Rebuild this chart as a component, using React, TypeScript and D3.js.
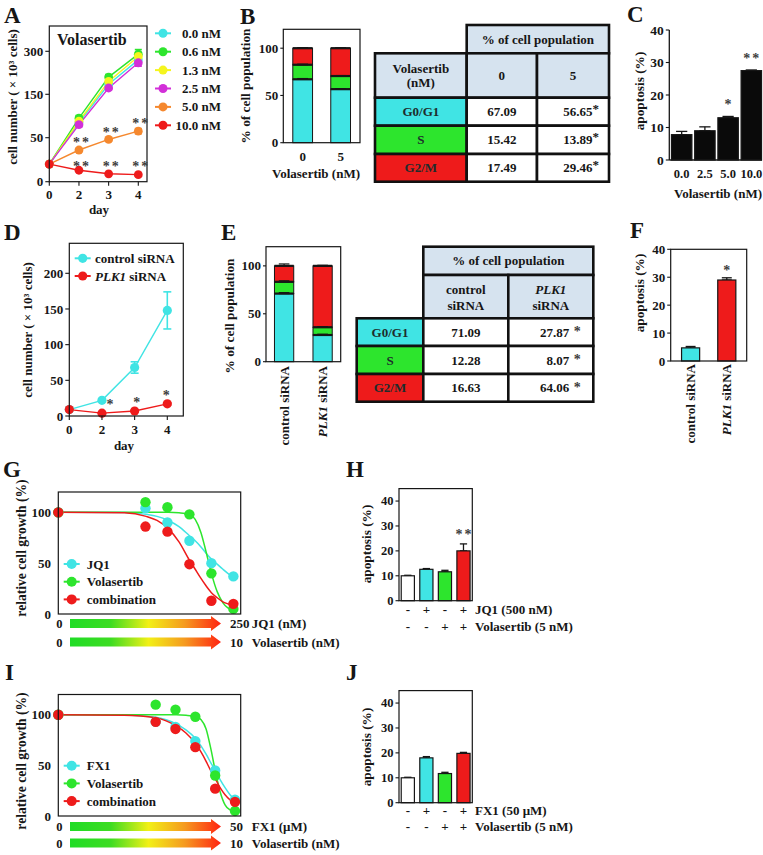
import React from 'react';
import * as d3 from 'd3';

const FONT = "'Liberation Serif', 'Times New Roman', serif";
const INK = '#161616';
const CYAN = '#40e4e4';
const GREEN = '#2de52d';
const YELLOW = '#f5f51e';
const MAGENTA = '#d22fd8';
const ORANGE = '#f5882e';
const RED = '#ee1b1b';
const HEADER = '#d6e3ef';
const CELLTXT = '#1e2c2c';
const STAR = '#3c3c3c';

// ---------- A: growth with Volasertib
const daysA = ['0', '2', '3', '4'];
const concA = ['0.0 nM', '0.6 nM', '1.3 nM', '2.5 nM', '5.0 nM', '10.0 nM'];
const cellsA_00 = [20, 85, 185, 270];
const cellsA_06 = [20, 95, 210, 290];
const cellsA_13 = [20, 88, 195, 282];
const cellsA_25 = [20, 80, 172, 260];
const cellsA_50 = [20, 36, 48, 65];
const cellsA_100 = [20, 13, 9, 8];
const errA_00 = [1, 6, 10, 14];
const errA_06 = [1, 6, 9, 16];
const errA_13 = [1, 6, 9, 15];
const errA_25 = [1, 5, 7, 12];
const errA_50 = [1, 2, 2, 6];
const errA_100 = [1, 1, 1, 1];
const yTicksA = [0, 50, 150, 300];
const starsA = ['', '**', '**', '**'];

// ---------- B: cell cycle, Volasertib
const phases = ['G0/G1', 'S', 'G2/M'];
const volB = ['0', '5'];
const cycleB_0 = [67.09, 15.42, 17.49];
const cycleB_5 = [56.65, 13.89, 29.46];
const cycleErrB_0 = [0.8, 0.6, 0.6];
const cycleErrB_5 = [0.6, 0.5, 0.5];
const stackTicks = [0, 50, 100];

// ---------- C: apoptosis, Volasertib
const concC = ['0.0', '2.5', '5.0', '10.0'];
const apoC = [7.8, 9.0, 13.0, 27.5];
const apoErrC = [1.0, 1.2, 0.4, 0.2];
const starsC = ['', '', '*', '**'];
const apoTicks = [0, 10, 20, 30, 40];

// ---------- D: growth with siRNA
const daysD = ['0', '2', '3', '4'];
const siNames = ['control siRNA', 'PLK1 siRNA'];
const ctrlD = [9, 22, 68, 148];
const ctrlErrD = [1, 2, 8, 26];
const plkD = [9, 4, 7, 17];
const plkErrD = [1, 1, 1, 1.5];
const starsD = ['', '*', '*', '*'];
const yTicksD = [0, 50, 100, 150, 200];

// ---------- E: cell cycle, siRNA
const cycleE_ctrl = [71.09, 12.28, 16.63];
const cycleE_plk = [27.87, 8.07, 64.06];
const cycleErrE_ctrl = [1.0, 1.0, 2.0];
const cycleErrE_plk = [0.8, 0.6, 0.6];

// ---------- F: apoptosis, siRNA
const apoF = [4.7, 29.0];
const apoErrF = [0.5, 0.8];
const starsF = ['', '*'];

// ---------- G: JQ1 + Volasertib dose response
const seriesNamesG = ['JQ1', 'Volasertib', 'combination'];
const dosesG = [0, 15.625, 31.25, 62.5, 125, 250];
const growthG_jq1 = [100, 104, 90, 72, 50, 37];
const growthG_vol = [100, 110, 105, 98, 40, 5];
const growthG_comb = [100, 86, 81, 49, 13, 10];
const fitDosesG = [1, 8, 16, 22.5, 32, 45, 62.5, 75, 90, 105, 125, 150, 180, 210, 250];
const fitG_jq1 = [100, 99.8, 98, 96, 92, 86, 77, 72, 66, 60, 54, 49, 44, 40, 36];
const fitG_vol = [100, 100, 100, 100, 100, 99.5, 98, 93, 80, 62, 40, 22, 11, 6, 4];
const fitG_comb = [100, 99.5, 96, 92, 84, 71, 53, 44, 35, 28, 21, 16, 12, 10, 8];

// ---------- H: apoptosis JQ1 + Volasertib
const jq1H = ['-', '+', '-', '+'];
const volH = ['-', '-', '+', '+'];
const apoH = [10.0, 12.6, 11.6, 20.0];
const apoErrH = [0.2, 0.3, 0.6, 2.8];
const starsH = ['', '', '', '**'];

// ---------- I: FX1 + Volasertib dose response
const seriesNamesI = ['FX1', 'Volasertib', 'combination'];
const dosesI = [0, 3.125, 6.25, 12.5, 25, 50];
const growthI_fx1 = [100, 93, 88, 74, 45, 16];
const growthI_vol = [100, 110, 105, 98, 40, 5];
const growthI_comb = [100, 93, 86, 68, 27, 14];
const fitDosesI = [0.104, 1.03, 3.13, 4.5, 6.4, 9, 12.8, 15.3, 18.2, 21.7, 25, 29.7, 35.3, 42, 50];
const fitI_fx1 = [100, 99.7, 97.5, 95, 91, 85, 76, 69, 61, 52, 45, 36, 28, 21, 16];
const fitI_vol = [100, 100, 100, 100, 100, 99.5, 98, 95, 86, 65, 45, 24, 11, 6, 4];
const fitI_comb = [100, 99.5, 97, 94, 89, 82, 71, 63, 54, 44, 37, 28, 21, 16, 13];
const growthTicks = [0, 50, 100];

// ---------- J: apoptosis FX1 + Volasertib
const fx1J = ['-', '+', '-', '+'];
const volJ = ['-', '-', '+', '+'];
const apoJ = [10.0, 18.0, 11.7, 19.8];
const apoErrJ = [0.2, 0.5, 0.5, 0.4];
const starsJ = ['', '', '', ''];

// ================= helpers
const Txt = ({ children, ...p }: any) => (
  <text fontFamily={FONT} fontWeight="bold" fill={INK} {...p}>
    {children}
  </text>
);

const VTitle = ({ x, y, size = 13, children }: any) => (
  <text
    transform={`translate(${x},${y}) rotate(-90)`}
    textAnchor="middle"
    fontFamily={FONT}
    fontWeight="bold"
    fontSize={size}
    fill={INK}
  >
    {children}
  </text>
);

const Letter = ({ x, y, children }: any) => (
  <Txt x={x} y={y} fontSize={23}>
    {children}
  </Txt>
);

const Star = ({ x, y, children, size = 14 }: any) => (
  <text
    x={x}
    y={y}
    textAnchor="middle"
    fontFamily={FONT}
    fontWeight="bold"
    fontSize={size}
    fill={STAR}
    letterSpacing={2}
  >
    {children}
  </text>
);

function ErrBar({ x, y0, y1, w = 6, color = INK, sw = 1.3 }: any) {
  return (
    <g stroke={color} strokeWidth={sw}>
      <line x1={x} x2={x} y1={y0} y2={y1} />
      <line x1={x - w / 2} x2={x + w / 2} y1={y0} y2={y0} />
      <line x1={x - w / 2} x2={x + w / 2} y1={y1} y2={y1} />
    </g>
  );
}

function LegendMark({ x, y, color, r = 4.5 }: any) {
  return (
    <g>
      <line x1={x - 8} x2={x + 8} y1={y} y2={y} stroke={color} strokeWidth={2} />
      <circle cx={x} cy={y} r={r} fill={color} />
    </g>
  );
}

function YAxisTicks({ ticks, y, x, size = 12.5, tick = 4, gap = 2 }: any) {
  return (
    <g>
      {ticks.map((t: number) => (
        <g key={t}>
          <line x1={x - tick} x2={x} y1={y(t)} y2={y(t)} stroke={INK} strokeWidth={1.1} />
          <Txt x={x - tick - gap} y={y(t) + size * 0.35} textAnchor="end" fontSize={size}>
            {t}
          </Txt>
        </g>
      ))}
    </g>
  );
}

function SiLabel({ x, y, name, size = 12.5 }: any) {
  const [first, ...rest] = name.split(' ');
  return (
    <text
      transform={`translate(${x},${y}) rotate(-90)`}
      textAnchor="end"
      fontFamily={FONT}
      fontWeight="bold"
      fontSize={size}
      fill={INK}
    >
      <tspan fontStyle={first === 'PLK1' ? 'italic' : 'normal'}>{first}</tspan>
      {' ' + rest.join(' ')}
    </text>
  );
}

// ================= A
function PanelA() {
  const L = 49.3, R = 147, T = 26, B = 181.7;
  const x = d3.scalePoint<string>().domain(daysA).range([49.3, 138.3]);
  const y = d3.scaleLinear().domain(yTicksA).range([181.7, 137.7, 94.3, 51.3]);
  const series = [
    { v: cellsA_00, e: errA_00, c: CYAN },
    { v: cellsA_06, e: errA_06, c: GREEN },
    { v: cellsA_13, e: errA_13, c: YELLOW },
    { v: cellsA_25, e: errA_25, c: MAGENTA },
    { v: cellsA_50, e: errA_50, c: ORANGE },
    { v: cellsA_100, e: errA_100, c: RED },
  ];
  const line = d3
    .line<number>()
    .x((_, i) => x(daysA[i])!)
    .y((d) => y(d));
  return (
    <g>
      <Letter x={4} y={23}>A</Letter>
      {series.map((s, k) => (
        <path key={k} d={line(s.v)!} fill="none" stroke={s.c} strokeWidth={1.4} />
      ))}
      {series.map((s, k) =>
        s.v.map((v, i) =>
          i > 0 ? (
            <ErrBar key={`${k}-${i}`} x={x(daysA[i])!} y0={y(v + s.e[i])} y1={y(v - s.e[i])} color={s.c} w={7} sw={1.6} />
          ) : null
        )
      )}
      {series.map((s, k) =>
        s.v.map((v, i) => <circle key={`${k}-${i}`} cx={x(daysA[i])} cy={y(v)} r={4.4} fill={s.c} />)
      )}
      <rect x={L} y={T} width={R - L} height={B - T} fill="none" stroke={INK} strokeWidth={1.2} />
      <YAxisTicks ticks={yTicksA} y={y} x={L} size={13} />
      {daysA.map((d) => (
        <g key={d}>
          <line x1={x(d)} x2={x(d)} y1={B} y2={B + 4} stroke={INK} strokeWidth={1.1} />
          <Txt x={x(d)} y={198.5} textAnchor="middle" fontSize={13}>
            {d}
          </Txt>
        </g>
      ))}
      <Txt x={57} y={45} fontSize={16}>Volasertib</Txt>
      {starsA.map((s, i) =>
        s ? (
          <g key={i}>
            <Star x={x(daysA[i])! + 3} y={y(cellsA_50[i] + errA_50[i]) - 1}>{s}</Star>
            <Star x={x(daysA[i])! + 3} y={171}>{s}</Star>
          </g>
        ) : null
      )}
      {concA.map((c, k) => (
        <g key={c}>
          <LegendMark x={163} y={33.3 + k * 18.4} color={series[k].c} />
          <Txt x={221} y={33.3 + k * 18.4 + 4.5} textAnchor="end" fontSize={13}>
            {c}
          </Txt>
        </g>
      ))}
      <Txt x={99} y={214} textAnchor="middle" fontSize={13}>day</Txt>
      <VTitle x={17} y={97} size={13}>cell number ( × 10³ cells)</VTitle>
    </g>
  );
}

// ================= stacked bars (B, E)
function Stacked({ cats, data, errs, L, R, T, B, padI, padO }: any) {
  const x = d3.scaleBand<string>().domain(cats).range([L, R]).paddingInner(padI).paddingOuter(padO);
  const y = d3.scaleLinear().domain([0, 120]).range([B, T]);
  const colors = [CYAN, GREEN, RED];
  const bw = x.bandwidth();
  return (
    <g>
      {cats.map((c: string, ci: number) => {
        const vals: number[] = data[ci];
        const tops = Array.from(d3.cumsum(vals));
        const x0 = x(c)!;
        return (
          <g key={c}>
            {vals.map((v, k) => (
              <rect
                key={k}
                x={x0}
                y={y(tops[k])}
                width={bw}
                height={y(tops[k] - v) - y(tops[k])}
                fill={colors[k]}
                stroke={INK}
                strokeWidth={1}
              />
            ))}
            {tops.map((t, k) => (
              <g key={k}>
                <ErrBar x={x0 + bw / 2} y0={y(t + errs[ci][k])} y1={y(t)} w={bw * 0.55} sw={1.2} />
                <line x1={x0} x2={x0 + bw} y1={y(t)} y2={y(t)} stroke={INK} strokeWidth={2.2} />
              </g>
            ))}
          </g>
        );
      })}
      <rect x={L} y={T} width={R - L} height={B - T} fill="none" stroke={INK} strokeWidth={1.2} />
      <YAxisTicks ticks={stackTicks} y={y} x={L} size={13} tick={3} />
    </g>
  );
}

function PanelB() {
  const x = d3.scaleBand<string>().domain(volB).range([283.3, 360]).paddingInner(0.48).paddingOuter(0.25);
  return (
    <g>
      <Letter x={240} y={24}>B</Letter>
      <Stacked
        cats={volB}
        data={[cycleB_0, cycleB_5]}
        errs={[cycleErrB_0, cycleErrB_5]}
        L={283.3}
        R={360}
        T={29.3}
        B={142.7}
        padI={0.48}
        padO={0.25}
      />
      {volB.map((c) => (
        <Txt key={c} x={x(c)! + x.bandwidth() / 2} y={161} textAnchor="middle" fontSize={13}>
          {c}
        </Txt>
      ))}
      <Txt x={316} y={177.5} textAnchor="middle" fontSize={13}>Volasertib (nM)</Txt>
      <VTitle x={250} y={86} size={13.3}>% of cell population</VTitle>
    </g>
  );
}

function PanelE() {
  const x = d3.scaleBand<string>().domain(siNames).range([266, 340.7]).paddingInner(0.5).paddingOuter(0.22);
  return (
    <g>
      <Letter x={221} y={240}>E</Letter>
      <Stacked
        cats={siNames}
        data={[cycleE_ctrl, cycleE_plk]}
        errs={[cycleErrE_ctrl, cycleErrE_plk]}
        L={266}
        R={340.7}
        T={246.7}
        B={361.7}
        padI={0.5}
        padO={0.22}
      />
      {siNames.map((c) => (
        <SiLabel key={c} x={x(c)! + x.bandwidth() / 2 + 4.5} y={366} name={c} size={13} />
      ))}
      <VTitle x={234} y={316} size={13.3}>% of cell population</VTitle>
    </g>
  );
}

// ================= tables
function Cell({ cx, ry, c0, c1, r0, r1, fill }: any) {
  return (
    <rect
      x={cx[c0]}
      y={ry[r0]}
      width={cx[c1] - cx[c0]}
      height={ry[r1] - ry[r0]}
      fill={fill}
      stroke="#111"
      strokeWidth={2.6}
    />
  );
}

function TableB() {
  const cx = [375, 466.7, 537, 609];
  const ry = [25, 53.3, 97.7, 125.7, 154, 181.7];
  const fills = [CYAN, GREEN, RED];
  const mx = (c: number) => (cx[c] + cx[c + 1]) / 2;
  const my = (r: number) => (ry[r] + ry[r + 1]) / 2;
  return (
    <g>
      <Cell cx={cx} ry={ry} c0={1} c1={3} r0={0} r1={1} fill={HEADER} />
      <Cell cx={cx} ry={ry} c0={0} c1={1} r0={1} r1={2} fill={HEADER} />
      <Cell cx={cx} ry={ry} c0={1} c1={2} r0={1} r1={2} fill={HEADER} />
      <Cell cx={cx} ry={ry} c0={2} c1={3} r0={1} r1={2} fill={HEADER} />
      {phases.map((p, i) => (
        <g key={p}>
          <Cell cx={cx} ry={ry} c0={0} c1={1} r0={2 + i} r1={3 + i} fill={fills[i]} />
          <Cell cx={cx} ry={ry} c0={1} c1={2} r0={2 + i} r1={3 + i} fill="#fff" />
          <Cell cx={cx} ry={ry} c0={2} c1={3} r0={2 + i} r1={3 + i} fill="#fff" />
        </g>
      ))}
      <Txt x={(cx[1] + cx[3]) / 2} y={my(0) + 4.5} textAnchor="middle" fontSize={13}>
        % of cell population
      </Txt>
      <Txt x={mx(0)} y={73} textAnchor="middle" fontSize={13}>Volasertib</Txt>
      <Txt x={mx(0)} y={86.5} textAnchor="middle" fontSize={13}>(nM)</Txt>
      {volB.map((v, k) => (
        <Txt key={v} x={mx(1 + k)} y={my(1) + 4.5} textAnchor="middle" fontSize={13}>
          {v}
        </Txt>
      ))}
      {phases.map((p, i) => (
        <g key={p}>
          <Txt x={mx(0)} y={my(2 + i) + 4.5} textAnchor="middle" fontSize={13} fill={CELLTXT}>
            {p}
          </Txt>
          <Txt x={mx(1)} y={my(2 + i) + 4.5} textAnchor="middle" fontSize={13}>
            {cycleB_0[i].toFixed(2)}
          </Txt>
          <Txt x={mx(2) + 8} y={my(2 + i) + 4.5} textAnchor="middle" fontSize={13}>
            {cycleB_5[i].toFixed(2)}
            <tspan dy={-3}>*</tspan>
          </Txt>
        </g>
      ))}
    </g>
  );
}

function TableE() {
  const cx = [356.7, 423.3, 508.3, 593.3];
  const ry = [246.7, 275, 318.3, 346, 374, 401.7];
  const fills = [CYAN, GREEN, RED];
  const mx = (c: number) => (cx[c] + cx[c + 1]) / 2;
  const my = (r: number) => (ry[r] + ry[r + 1]) / 2;
  return (
    <g>
      <Cell cx={cx} ry={ry} c0={1} c1={3} r0={0} r1={1} fill={HEADER} />
      <Cell cx={cx} ry={ry} c0={1} c1={2} r0={1} r1={2} fill={HEADER} />
      <Cell cx={cx} ry={ry} c0={2} c1={3} r0={1} r1={2} fill={HEADER} />
      {phases.map((p, i) => (
        <g key={p}>
          <Cell cx={cx} ry={ry} c0={0} c1={1} r0={2 + i} r1={3 + i} fill={fills[i]} />
          <Cell cx={cx} ry={ry} c0={1} c1={2} r0={2 + i} r1={3 + i} fill="#fff" />
          <Cell cx={cx} ry={ry} c0={2} c1={3} r0={2 + i} r1={3 + i} fill="#fff" />
        </g>
      ))}
      <Txt x={(cx[1] + cx[3]) / 2} y={my(0) + 4.5} textAnchor="middle" fontSize={13}>
        % of cell population
      </Txt>
      {siNames.map((n, k) => {
        const [first, ...rest] = n.split(' ');
        return (
          <g key={n}>
            <Txt
              x={mx(1 + k)}
              y={293.5}
              textAnchor="middle"
              fontSize={13}
              fontStyle={first === 'PLK1' ? 'italic' : 'normal'}
            >
              {first}
            </Txt>
            <Txt x={mx(1 + k)} y={309.5} textAnchor="middle" fontSize={13}>
              {rest.join(' ')}
            </Txt>
          </g>
        );
      })}
      {phases.map((p, i) => (
        <g key={p}>
          <Txt x={mx(0)} y={my(2 + i) + 4.5} textAnchor="middle" fontSize={13} fill={CELLTXT}>
            {p}
          </Txt>
          <Txt x={mx(1)} y={my(2 + i) + 4.5} textAnchor="middle" fontSize={13}>
            {cycleE_ctrl[i].toFixed(2)}
          </Txt>
          <Txt x={cx[3] - 24} y={my(2 + i) + 4.5} textAnchor="end" fontSize={13}>
            {cycleE_plk[i].toFixed(2)}
          </Txt>
          <Star x={cx[3] - 15} y={my(2 + i) + 4} size={14}>*</Star>
        </g>
      ))}
    </g>
  );
}

// ================= simple bar panel (C, F, H, J)
function BarPanel({ L, R, T, B, yMax, ticks, vals, errs, fills, stars, frame, padI, padO, barL, barR, tickSize = 12.5, starGap = 6 }: any) {
  const cats = vals.map((_: number, i: number) => String(i));
  const x = d3.scaleBand<string>().domain(cats).range([barL ?? L, barR ?? R]).paddingInner(padI).paddingOuter(padO);
  const y = d3.scaleLinear().domain([0, yMax]).range([B, T]);
  const bw = x.bandwidth();
  return (
    <g>
      {vals.map((v: number, i: number) => {
        const x0 = x(cats[i])!;
        return (
          <g key={i}>
            <ErrBar x={x0 + bw / 2} y0={y(v + errs[i])} y1={y(v)} w={bw * 0.55} sw={1.3} />
            <rect x={x0} y={y(v)} width={bw} height={B - y(v)} fill={fills[i]} stroke={INK} strokeWidth={1.2} />
            {stars[i] ? (
              <Star x={x0 + bw / 2 + 1} y={y(v + errs[i]) - starGap}>{stars[i]}</Star>
            ) : null}
          </g>
        );
      })}
      {frame ? (
        <rect x={L} y={T} width={R - L} height={B - T} fill="none" stroke={INK} strokeWidth={1.2} />
      ) : (
        <g stroke={INK} strokeWidth={1.3}>
          <line x1={L} x2={L} y1={y(yMax)} y2={B} />
          <line x1={L} x2={R} y1={B} y2={B} />
        </g>
      )}
      <YAxisTicks ticks={ticks} y={y} x={L} size={tickSize} tick={3.5} />
    </g>
  );
}

function PanelC() {
  const x = d3.scaleBand<string>().domain(concC).range([671, 762]).paddingInner(0.12).paddingOuter(0.02);
  return (
    <g>
      <Letter x={627} y={22}>C</Letter>
      <BarPanel
        L={669.3}
        R={762}
        T={30}
        B={160}
        yMax={40}
        ticks={apoTicks}
        vals={apoC}
        errs={apoErrC}
        fills={apoC.map(() => '#0a0a0a')}
        stars={starsC}
        frame={false}
        barL={671}
        barR={762}
        padI={0.12}
        padO={0.02}
        tickSize={13.5}
        starGap={7}
      />
      {concC.map((c) => (
        <Txt key={c} x={x(c)! + x.bandwidth() / 2} y={178} textAnchor="middle" fontSize={12.5}>
          {c}
        </Txt>
      ))}
      <Txt x={718} y={198} textAnchor="middle" fontSize={13}>Volasertib (nM)</Txt>
      <VTitle x={644} y={91} size={13.3}>apoptosis (%)</VTitle>
    </g>
  );
}

function PanelD() {
  const L = 69.3, R = 183.3, T = 243.3, B = 416;
  const x = d3.scalePoint<string>().domain(daysD).range([69.3, 167.3]);
  const y = d3.scaleLinear().domain([0, 200]).range([416, 273.3]);
  const line = d3
    .line<number>()
    .x((_, i) => x(daysD[i])!)
    .y((d) => y(d));
  const starDx = [0, 9, 3, 0];
  const series = [
    { v: ctrlD, e: ctrlErrD, c: CYAN },
    { v: plkD, e: plkErrD, c: RED },
  ];
  return (
    <g>
      <Letter x={4} y={240}>D</Letter>
      {series.map((s, k) => (
        <path key={k} d={line(s.v)!} fill="none" stroke={s.c} strokeWidth={1.4} />
      ))}
      {series.map((s, k) =>
        s.v.map((v, i) =>
          i > 0 ? (
            <ErrBar key={`${k}-${i}`} x={x(daysD[i])!} y0={y(v + s.e[i])} y1={y(v - s.e[i])} color={s.c} w={8} sw={1.6} />
          ) : null
        )
      )}
      {series.map((s, k) =>
        s.v.map((v, i) => <circle key={`${k}-${i}`} cx={x(daysD[i])} cy={y(v)} r={4.6} fill={s.c} />)
      )}
      <rect x={L} y={T} width={R - L} height={B - T} fill="none" stroke={INK} strokeWidth={1.2} />
      <YAxisTicks ticks={yTicksD} y={y} x={L} size={13} />
      {daysD.map((d) => (
        <g key={d}>
          <line x1={x(d)} x2={x(d)} y1={B} y2={B + 4} stroke={INK} strokeWidth={1.1} />
          <Txt x={x(d)} y={433.5} textAnchor="middle" fontSize={13}>
            {d}
          </Txt>
        </g>
      ))}
      {starsD.map((s, i) =>
        s ? (
          <Star key={i} x={x(daysD[i])! + starDx[i]} y={y(plkD[i] + plkErrD[i]) - 3}>
            {s}
          </Star>
        ) : null
      )}
      {siNames.map((n, k) => {
        const [first, ...rest] = n.split(' ');
        return (
          <g key={n}>
            <LegendMark x={82.7} y={258.3 + k * 17.7} color={series[k].c} r={4.6} />
            <Txt x={95} y={258.3 + k * 17.7 + 4.5} fontSize={13}>
              <tspan fontStyle={first === 'PLK1' ? 'italic' : 'normal'}>{first}</tspan>
              {' ' + rest.join(' ')}
            </Txt>
          </g>
        );
      })}
      <Txt x={124} y={450} textAnchor="middle" fontSize={13}>day</Txt>
      <VTitle x={32} y={330} size={13}>cell number ( × 10³ cells)</VTitle>
    </g>
  );
}

function PanelF() {
  const cats = apoF.map((_, i) => String(i));
  const x = d3.scaleBand<string>().domain(cats).range([670.7, 746.7]).paddingInner(0.5).paddingOuter(0.3);
  return (
    <g>
      <Letter x={630} y={238}>F</Letter>
      <BarPanel
        L={670.7}
        R={746.7}
        T={249.3}
        B={361}
        yMax={40}
        ticks={apoTicks}
        vals={apoF}
        errs={apoErrF}
        fills={[CYAN, RED]}
        stars={starsF}
        frame={true}
        padI={0.5}
        padO={0.3}
        tickSize={13}
        starGap={3}
      />
      {siNames.map((n, i) => (
        <SiLabel key={n} x={x(cats[i])! + x.bandwidth() / 2 + 4.5} y={364} name={n} size={13} />
      ))}
      <VTitle x={644} y={293} size={13.3}>apoptosis (%)</VTitle>
    </g>
  );
}

// ================= dose response (G, I)
function GradArrow({ y, label0, labelMax, drug }: any) {
  const x0 = 70, xh = 211, xt = 221, hb = 4.5, hh = 7.5;
  return (
    <g>
      <path
        d={`M${x0},${y - hb} L${xh},${y - hb} L${xh},${y - hh} L${xt},${y} L${xh},${y + hh} L${xh},${y + hb} L${x0},${y + hb} Z`}
        fill="url(#doseGrad)"
      />
      <Txt x={59.3} y={y + 4.5} textAnchor="middle" fontSize={12.5}>
        {label0}
      </Txt>
      <Txt x={230} y={y + 4.5} fontSize={13}>
        {labelMax}
      </Txt>
      <Txt x={251.7} y={y + 4.5} fontSize={13}>
        {drug}
      </Txt>
    </g>
  );
}

function DosePanel({ T, B, xDomain, zeroAt, doses, pts, fitDoses, fits, names, legendY }: any) {
  const L = 58.3, R = 240.7;
  const x = d3.scaleLog().base(2).domain(xDomain).range([L, R]);
  const y = d3.scaleLinear().domain([0, 120]).range([B, T]);
  const px = (d: number) => x(d === 0 ? zeroAt : d);
  const colors = [CYAN, GREEN, RED];
  const line = d3
    .line<number>()
    .x((_, i) => x(fitDoses[i]))
    .y((d) => y(d))
    .curve(d3.curveMonotoneX);
  return (
    <g>
      {fits.map((f: number[], k: number) => (
        <path key={k} d={line(f)!} fill="none" stroke={colors[k]} strokeWidth={1.5} />
      ))}
      {pts.map((p: number[], k: number) =>
        p.map((v, i) => <circle key={`${k}-${i}`} cx={px(doses[i])} cy={y(v)} r={5.2} fill={colors[k]} />)
      )}
      <rect x={L} y={T} width={R - L} height={B - T} fill="none" stroke={INK} strokeWidth={1.2} />
      {growthTicks.map((t) => (
        <Txt key={t} x={51} y={y(t) + 4.5} textAnchor="end" fontSize={13}>
          {t}
        </Txt>
      ))}
      {names.map((n: string, k: number) => (
        <g key={n}>
          <LegendMark x={71.7} y={legendY + k * 17.7} color={colors[k]} r={5} />
          <Txt x={86.7} y={legendY + k * 17.7 + 4.5} fontSize={13}>
            {n}
          </Txt>
        </g>
      ))}
    </g>
  );
}

function PanelG() {
  return (
    <g>
      <Letter x={3} y={477}>G</Letter>
      <DosePanel
        T={492}
        B={614}
        xDomain={[1, 315]}
        zeroAt={1}
        doses={dosesG}
        pts={[growthG_jq1, growthG_vol, growthG_comb]}
        fitDoses={fitDosesG}
        fits={[fitG_jq1, fitG_vol, fitG_comb]}
        names={seriesNamesG}
        legendY={564}
      />
      <GradArrow y={623.5} label0="0" labelMax="250" drug="JQ1 (nM)" />
      <GradArrow y={642} label0="0" labelMax="10" drug="Volasertib (nM)" />
      <VTitle x={26} y={548} size={13.6}>relative cell growth (%)</VTitle>
    </g>
  );
}

function PanelI() {
  return (
    <g>
      <Letter x={5} y={680}>I</Letter>
      <DosePanel
        T={694.5}
        B={816}
        xDomain={[0.104, 61]}
        zeroAt={0.104}
        doses={dosesI}
        pts={[growthI_fx1, growthI_vol, growthI_comb]}
        fitDoses={fitDosesI}
        fits={[fitI_fx1, fitI_vol, fitI_comb]}
        names={seriesNamesI}
        legendY={765.7}
      />
      <GradArrow y={826.5} label0="0" labelMax="50" drug="FX1 (μM)" />
      <GradArrow y={843} label0="0" labelMax="10" drug="Volasertib (nM)" />
      <VTitle x={26} y={761} size={13.6}>relative cell growth (%)</VTitle>
    </g>
  );
}

function ComboBars({ T, B, vals, errs, stars, row1, row2, drug1, drug2, rowY, letter, letterY, titleY }: any) {
  const cats = vals.map((_: number, i: number) => String(i));
  const x = d3.scaleBand<string>().domain(cats).range([399, 472.3]).paddingInner(0.29).paddingOuter(0.12);
  return (
    <g>
      <Letter x={346} y={letterY}>{letter}</Letter>
      <BarPanel
        L={399}
        R={472.3}
        T={T}
        B={B}
        yMax={45}
        ticks={apoTicks}
        vals={vals}
        errs={errs}
        fills={['#ffffff', CYAN, GREEN, RED]}
        stars={stars}
        frame={true}
        padI={0.29}
        padO={0.12}
        tickSize={12.5}
        starGap={5}
      />
      {cats.map((c: string, i: number) => (
        <g key={c}>
          <Txt x={x(c)! + x.bandwidth() / 2} y={rowY + 4.5} textAnchor="middle" fontSize={13}>
            {row1[i]}
          </Txt>
          <Txt x={x(c)! + x.bandwidth() / 2} y={rowY + 21} textAnchor="middle" fontSize={13}>
            {row2[i]}
          </Txt>
        </g>
      ))}
      <Txt x={475} y={rowY + 4.5} fontSize={13}>{drug1}</Txt>
      <Txt x={475} y={rowY + 21} fontSize={13}>{drug2}</Txt>
      <VTitle x={371} y={titleY} size={13.3}>apoptosis (%)</VTitle>
    </g>
  );
}

export default function App() {
  return (
    <svg
      width={763}
      height={855}
      viewBox="0 0 763 855"
      style={{ position: 'absolute', left: 0, top: 0, display: 'block' }}
      fontFamily={FONT}
    >
      <rect x={0} y={0} width={763} height={855} fill="#fff" />
      <defs>
        <linearGradient id="doseGrad" x1="0" x2="1" y1="0" y2="0">
          <stop offset="0" stopColor="#1fdc26" />
          <stop offset="0.27" stopColor="#3ddc22" />
          <stop offset="0.52" stopColor="#f2f016" />
          <stop offset="0.76" stopColor="#f59a20" />
          <stop offset="1" stopColor="#ff2412" />
        </linearGradient>
      </defs>
      <PanelA />
      <PanelB />
      <TableB />
      <PanelC />
      <PanelD />
      <PanelE />
      <TableE />
      <PanelF />
      <PanelG />
      <ComboBars
        T={488.6}
        B={600.7}
        vals={apoH}
        errs={apoErrH}
        stars={starsH}
        row1={jq1H}
        row2={volH}
        drug1="JQ1 (500 nM)"
        drug2="Volasertib (5 nM)"
        rowY={609.5}
        letter="H"
        letterY={477}
        titleY={544}
      />
      <PanelI />
      <ComboBars
        T={690.6}
        B={802.7}
        vals={apoJ}
        errs={apoErrJ}
        stars={starsJ}
        row1={fx1J}
        row2={volJ}
        drug1="FX1 (50 μM)"
        drug2="Volasertib (5 nM)"
        rowY={810}
        letter="J"
        letterY={680}
        titleY={747}
      />
    </svg>
  );
}
